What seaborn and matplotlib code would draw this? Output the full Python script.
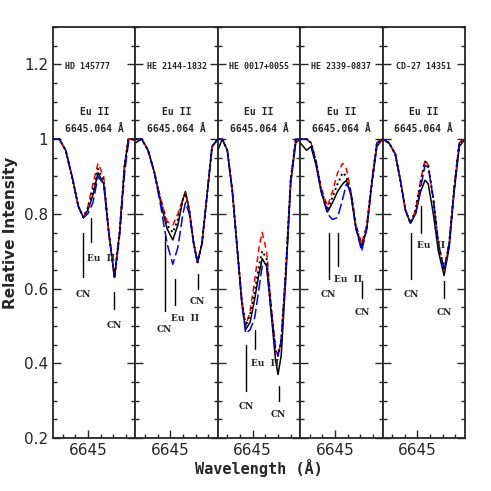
import matplotlib
matplotlib.use("Agg")
import matplotlib.pyplot as plt
import seaborn as sns
import pandas as pd

sns.set_style("ticks")
plt.rcParams['font.family'] = ['DejaVu Sans']

stars = ['HD 145777', 'HE 2144-1832', 'HE 0017+0055', 'HE 2339-0837', 'CD-27 14351']

# wavelength grid and intensities per panel
wave = [
    [6644.45, 6644.55, 6644.65, 6644.75, 6644.85, 6644.93, 6645.0, 6645.08, 6645.16, 6645.25, 6645.33, 6645.42, 6645.5, 6645.58, 6645.64, 6645.75],
    [6644.45, 6644.55, 6644.65, 6644.75, 6644.85, 6644.95, 6645.04, 6645.12, 6645.2, 6645.24, 6645.3, 6645.37, 6645.43, 6645.5, 6645.58, 6645.66, 6645.75],
    [6644.45, 6644.52, 6644.6, 6644.68, 6644.76, 6644.83, 6644.89, 6644.96, 6645.03, 6645.1, 6645.15, 6645.22, 6645.3, 6645.36, 6645.4, 6645.45, 6645.52, 6645.6, 6645.68, 6645.75],
    [6644.45, 6644.55, 6644.62, 6644.7, 6644.78, 6644.88, 6644.96, 6645.04, 6645.12, 6645.18, 6645.25, 6645.33, 6645.42, 6645.5, 6645.58, 6645.66, 6645.75],
    [6644.45, 6644.55, 6644.65, 6644.73, 6644.81, 6644.89, 6644.97, 6645.05, 6645.12, 6645.17, 6645.25, 6645.33, 6645.42, 6645.5, 6645.58, 6645.66, 6645.75],
]
observed = [
    [1.0, 1.0, 0.97, 0.9, 0.82, 0.79, 0.81, 0.85, 0.91, 0.88, 0.75, 0.63, 0.75, 0.93, 1.0, 1.0],
    [0.99, 1.0, 0.97, 0.91, 0.83, 0.76, 0.73, 0.77, 0.84, 0.86, 0.81, 0.72, 0.67, 0.72, 0.85, 0.98, 1.0],
    [0.97, 1.0, 0.97, 0.86, 0.70, 0.56, 0.49, 0.51, 0.57, 0.64, 0.68, 0.66, 0.52, 0.41, 0.37, 0.42, 0.62, 0.88, 0.99, 1.0],
    [0.99, 0.97, 0.98, 0.93, 0.86, 0.805, 0.83, 0.86, 0.88, 0.89, 0.85, 0.76, 0.71, 0.76, 0.88, 0.98, 1.0],
    [1.0, 0.99, 0.96, 0.89, 0.81, 0.775, 0.80, 0.86, 0.89, 0.88, 0.80, 0.70, 0.635, 0.71, 0.86, 0.98, 1.0],
]
synth_best = [
    [1.0, 1.0, 0.97, 0.9, 0.82, 0.79, 0.815, 0.865, 0.92, 0.89, 0.75, 0.63, 0.75, 0.93, 1.0, 1.0],
    [1.0, 1.0, 0.97, 0.91, 0.835, 0.77, 0.75, 0.785, 0.84, 0.855, 0.81, 0.72, 0.67, 0.72, 0.85, 0.98, 1.0],
    [1.0, 1.0, 0.97, 0.86, 0.70, 0.565, 0.50, 0.53, 0.59, 0.66, 0.70, 0.68, 0.53, 0.43, 0.42, 0.46, 0.64, 0.89, 1.0, 1.0],
    [1.0, 1.0, 0.99, 0.94, 0.865, 0.81, 0.845, 0.88, 0.91, 0.90, 0.855, 0.765, 0.715, 0.765, 0.885, 0.99, 1.0],
    [1.0, 0.99, 0.96, 0.89, 0.81, 0.775, 0.81, 0.885, 0.94, 0.93, 0.84, 0.72, 0.648, 0.72, 0.87, 0.99, 1.0],
]
synth_low = [
    [1.0, 1.0, 0.97, 0.9, 0.82, 0.79, 0.82, 0.88, 0.935, 0.9, 0.75, 0.63, 0.75, 0.93, 1.0, 1.0],
    [1.0, 1.0, 0.97, 0.91, 0.84, 0.78, 0.77, 0.80, 0.84, 0.855, 0.81, 0.72, 0.67, 0.72, 0.85, 0.98, 1.0],
    [1.0, 1.0, 0.97, 0.86, 0.70, 0.57, 0.50, 0.54, 0.62, 0.71, 0.75, 0.70, 0.54, 0.44, 0.42, 0.46, 0.64, 0.89, 1.0, 1.0],
    [1.0, 1.0, 0.99, 0.94, 0.87, 0.82, 0.86, 0.91, 0.935, 0.92, 0.86, 0.77, 0.72, 0.77, 0.89, 0.99, 1.0],
    [1.0, 0.99, 0.96, 0.89, 0.81, 0.775, 0.81, 0.89, 0.945, 0.93, 0.84, 0.72, 0.65, 0.72, 0.87, 0.99, 1.0],
]
synth_high = [
    [1.0, 1.0, 0.97, 0.9, 0.82, 0.79, 0.80, 0.83, 0.90, 0.88, 0.75, 0.63, 0.74, 0.91, 0.99, 1.0],
    [1.0, 1.0, 0.97, 0.91, 0.82, 0.72, 0.665, 0.71, 0.80, 0.83, 0.80, 0.72, 0.67, 0.72, 0.85, 0.98, 1.0],
    [1.0, 1.0, 0.97, 0.86, 0.70, 0.56, 0.48, 0.49, 0.52, 0.60, 0.66, 0.66, 0.53, 0.44, 0.42, 0.46, 0.64, 0.89, 1.0, 1.0],
    [1.0, 1.0, 0.99, 0.94, 0.86, 0.80, 0.785, 0.79, 0.84, 0.88, 0.86, 0.76, 0.70, 0.76, 0.88, 0.99, 1.0],
    [1.0, 0.99, 0.96, 0.89, 0.81, 0.775, 0.80, 0.87, 0.93, 0.925, 0.84, 0.72, 0.65, 0.72, 0.87, 0.99, 1.0],
]

# line identifications: (wavelength, y_top, y_bottom, label_y, label)
ids = [
    [(6644.93, 0.75, 0.63, 0.585, 'CN'), (6645.05, 0.79, 0.725, 0.68, 'Eu  II'), (6645.42, 0.59, 0.545, 0.50, 'CN')],
    [(6644.91, 0.74, 0.54, 0.49, 'CN'), (6645.07, 0.625, 0.557, 0.52, 'Eu  II'), (6645.43, 0.64, 0.60, 0.565, 'CN')],
    [(6644.90, 0.45, 0.325, 0.285, 'CN'), (6645.04, 0.49, 0.437, 0.40, 'Eu  II'), (6645.41, 0.34, 0.30, 0.262, 'CN')],
    [(6644.90, 0.75, 0.625, 0.585, 'CN'), (6645.04, 0.75, 0.66, 0.625, 'Eu  II'), (6645.43, 0.62, 0.575, 0.537, 'CN')],
    [(6644.90, 0.75, 0.625, 0.585, 'CN'), (6645.06, 0.82, 0.75, 0.715, 'Eu  II'), (6645.42, 0.62, 0.575, 0.535, 'CN')],
]

fig = plt.figure(figsize=(4.91, 4.91), dpi=100)
left, right, bottom, top = 53 / 491, 465 / 491, 53 / 491, 464 / 491
pw = (right - left) / 5
for i in range(5):
    ax = fig.add_axes([left + i * pw, bottom, pw, top - bottom])
    df = pd.DataFrame({'w': wave[i], 'obs': observed[i], 'best': synth_best[i],
                       'low': synth_low[i], 'high': synth_high[i]})
    sns.lineplot(data=df, x='w', y='obs', ax=ax, color='black', lw=1.1)
    sns.lineplot(data=df, x='w', y='low', ax=ax, color='red', lw=1.1)
    ax.lines[-1].set_dashes([4, 2.5])
    sns.lineplot(data=df, x='w', y='high', ax=ax, color='blue', lw=1.1)
    ax.lines[-1].set_dashes([7, 2.5])
    sns.lineplot(data=df, x='w', y='best', ax=ax, color='black', lw=1.4)
    ax.lines[-1].set_linestyle(':')
    for (w, y1, y2, yl, lab) in ids[i]:
        ax.plot([w, w], [y1, y2], color='black', lw=1)
        ax.text(w - 0.06 if lab != 'CN' else w, yl, lab, ha='center' if lab == 'CN' else 'left',
                va='center', fontsize=6.5, fontweight='bold', family='DejaVu Serif')
    ax.text(0.5 if i else 0.42, 0.905, stars[i], transform=ax.transAxes, ha='center', va='center',
            fontsize=6, fontweight='bold', family='DejaVu Sans Mono')
    ax.text(0.5, 0.785, 'Eu II', transform=ax.transAxes, ha='center', fontsize=7,
            fontweight='bold', family='DejaVu Sans Mono')
    ax.text(0.5, 0.745, '6645.064 Å', transform=ax.transAxes, ha='center', fontsize=7,
            fontweight='bold', family='DejaVu Sans Mono')
    ax.set_xlim(6644.45, 6645.75)
    ax.set_ylim(0.2, 1.3)
    ax.set_xticks([6645])
    ax.set_xticklabels(['6645'], fontsize=11)
    ax.set_xticks([6644.6, 6644.8, 6645.2, 6645.4, 6645.6], minor=True)
    ax.set_yticks([0.2 + 0.05 * k for k in range(23)], minor=True)
    ax.set_yticks([0.2, 0.4, 0.6, 0.8, 1.0, 1.2])
    if i == 0:
        ax.set_yticklabels(['0.2', '0.4', '0.6', '0.8', '1', '1.2'], fontsize=11)
        ax.set_ylabel('Relative Intensity', fontsize=11, fontweight='bold')
    else:
        ax.set_yticklabels([])
        ax.set_ylabel('')
    ax.set_xlabel('')
    ax.tick_params(which='major', direction='in', length=6, width=1, top=False, right=True)
    ax.tick_params(which='minor', direction='in', length=3, width=1, top=False, right=True)
    for s in ax.spines.values():
        s.set_linewidth(1.3)
fig.text((left + right) / 2, 0.035, 'Wavelength (Å)', ha='center', fontsize=11, fontweight='bold',
         family='DejaVu Sans Mono')
fig.savefig('out.png', dpi=100)
